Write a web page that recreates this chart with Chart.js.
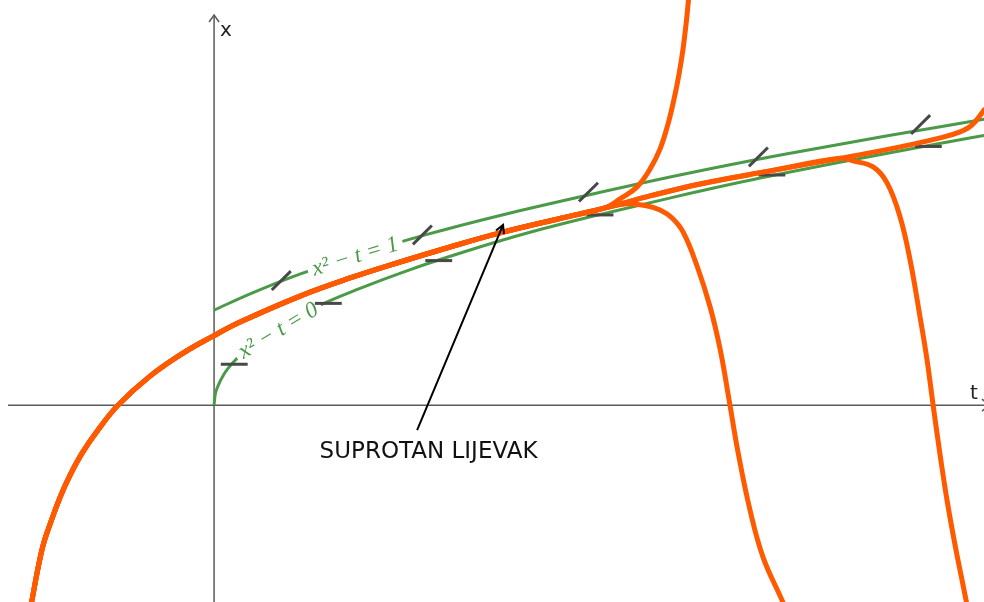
<!DOCTYPE html>
<html>
<head>
<meta charset="utf-8">
<script src="https://cdn.jsdelivr.net/npm/chart.js@4.4.1/dist/chart.umd.min.js"></script>
<style>
html, body { margin: 0; padding: 0; background: #fff; }
#wrap { width: 984px; height: 602px; }
</style>
</head>
<body>
<div id="wrap"><canvas id="chart" width="984" height="602"></canvas></div>
<script>
// --- visible window (t horizontal, x vertical) ---
const tMin = -2.23, tMax = 8.02;
const xMin = -2.07, xMax = 4.26;

// --- isoclines x^2 - t = 0 and x^2 - t = 1 ---
const iso0T = [0, 0.01, 0.04, 0.1, 0.2, 0.35, 0.55, 0.8, 1.1, 1.5, 2, 2.6, 3.3, 4, 4.8, 5.7, 6.6, 7.5, 8.1];
const iso0X = [0, 0.1, 0.2, 0.32, 0.45, 0.59, 0.74, 0.89, 1.05, 1.22, 1.41, 1.61, 1.82, 2, 2.19, 2.39, 2.57, 2.74, 2.85];
const iso1T = [0, 0.4, 0.9, 1.5, 2.2, 3, 3.9, 4.9, 5.9, 7, 8.1];
const iso1X = [1, 1.18, 1.38, 1.58, 1.79, 2, 2.21, 2.43, 2.63, 2.83, 3.02];

// --- slope marks on the isoclines (centres + slope) ---
const flatT = [0.21, 1.19, 2.34, 4.02, 5.81, 7.44];
const flatX = [0.43, 1.07, 1.52, 2.0, 2.42, 2.72];
const flatSlope = 0;
const steepT = [0.70, 2.17, 3.90, 5.67, 7.36];
const steepX = [1.31, 1.79, 2.24, 2.61, 2.95];
const steepSlope = 1;

// --- solutions (orange) ---
// common trunk coming up from bottom left
const trunkT = [-1.917, -1.792, -1.698, -1.604, -1.5, -1.375, -1.219, -1.0, -0.667, -0.323, -0.01, 0.271, 0.896, 1.417, 1.938, 2.458, 2.979, 3.604, 4.073];
const trunkX = [-2.158, -1.516, -1.221, -0.968, -0.737, -0.505, -0.274, 0, 0.305, 0.547, 0.726, 0.874, 1.147, 1.337, 1.505, 1.663, 1.811, 1.963, 2.074];
// branch shooting up near t = 4.9
const upT = [4.229, 4.406, 4.542, 4.646, 4.729, 4.792, 4.844, 4.885, 4.917, 4.938, 4.958];
const upX = [2.168, 2.295, 2.484, 2.695, 2.958, 3.221, 3.484, 3.747, 4.011, 4.221, 4.43];
// branch falling near t = 5.4
const downAT = [4.281, 4.49, 4.646, 4.771, 4.885, 5.031, 5.167, 5.271, 5.365, 5.458, 5.583, 5.719, 5.917, 5.969];
const downAX = [2.116, 2.1, 2.053, 1.968, 1.821, 1.463, 1.032, 0.589, 0.053, -0.495, -1.105, -1.6, -2.053, -2.179];
// trunk continuing right
const contT = [4.542, 5.063, 5.792, 6.521, 7.146, 7.563, 7.771, 7.896, 8.021, 8.083];
const contX = [2.2, 2.326, 2.463, 2.595, 2.716, 2.811, 2.874, 2.947, 3.105, 3.21];
// branch falling near t = 7.5
const downBT = [6.656, 6.865, 7.01, 7.146, 7.25, 7.354, 7.427, 7.49, 7.563, 7.635, 7.719, 7.802, 7.854];
const downBX = [2.568, 2.505, 2.337, 1.979, 1.526, 0.926, 0.474, 0, -0.526, -1.0, -1.474, -1.895, -2.158];

// --- annotation (data coords) ---
const noteText = 'SUPROTAN LIJEVAK';
const noteT = 2.234, noteX = -0.558;
const arrowFrom = [2.115, -0.263], arrowTo = [3.01, 1.895];
const iso1Label = { text: 'x\u00B2 \u2212 t = 1', t: 1.469, x: 1.568, angle: -17 };
const iso0Label = { text: 'x\u00B2 \u2212 t = 0', t: 0.667, x: 0.789, angle: -31 };

const GREEN = '#4b9a48';
const ORANGE = '#ff5a00';
const MARK = '#484848';
const AXIS = '#5a5a5a';

function pts(ts, xs) {
    return ts.map((t, i) => ({ x: t, y: xs[i] }));
}

function curve(label, ts, xs) {
    return {
        label: label,
        data: pts(ts, xs),
        showLine: true,
        borderColor: ORANGE,
        borderWidth: 5,
        pointRadius: 0,
        tension: 0.4,
        borderCapStyle: 'round',
        borderJoinStyle: 'round',
        order: 1
    };
}

function iso(label, ts, xs) {
    return {
        label: label,
        data: pts(ts, xs),
        showLine: true,
        borderColor: GREEN,
        borderWidth: 3,
        pointRadius: 0,
        cubicInterpolationMode: 'monotone',
        order: 3
    };
}

function marks(ts, xs, slope) {
    const half = 0.14;
    const dt = half / Math.sqrt(1 + slope * slope);
    return ts.map((t, i) => ({
        label: 'mark',
        data: [{ x: t - dt, y: xs[i] - slope * dt }, { x: t + dt, y: xs[i] + slope * dt }],
        showLine: true,
        borderColor: MARK,
        borderWidth: 3,
        pointRadius: 0,
        order: 2
    }));
}

const splitIdx = contT.indexOf(6.521) + 1;

const datasets = [
    curve('up', trunkT.concat(upT), trunkX.concat(upX)),
    curve('downA', trunkT.concat(downAT), trunkX.concat(downAX)),
    curve('downB', trunkT.concat(contT.slice(0, splitIdx), downBT), trunkX.concat(contX.slice(0, splitIdx), downBX)),
    curve('cont', trunkT.concat(contT), trunkX.concat(contX)),
    ...marks(flatT, flatX, flatSlope),
    ...marks(steepT, steepX, steepSlope),
    iso('iso1', iso1T, iso1X),
    iso('iso0', iso0T, iso0X)
];

function drawIsoLabel(chart, lab) {
    const { ctx, scales: { x: sx, y: sy } } = chart;
    const px = sx.getPixelForValue(lab.t), py = sy.getPixelForValue(lab.x);
    ctx.save();
    ctx.translate(px, py);
    ctx.rotate(lab.angle * Math.PI / 180);
    ctx.font = 'italic 23px "Liberation Serif", serif';
    const w = ctx.measureText(lab.text).width;
    ctx.fillStyle = '#fff';
    ctx.fillRect(-w / 2 - 5, -11, w + 10, 22);
    ctx.fillStyle = GREEN;
    ctx.textAlign = 'center';
    ctx.textBaseline = 'middle';
    ctx.fillText(lab.text, 0, 1);
    ctx.restore();
}

const overlay = {
    id: 'overlay',
    beforeDatasetsDraw(chart) {
        const { ctx, width, height, scales: { x: sx, y: sy } } = chart;
        const ox = sx.getPixelForValue(0), oy = sy.getPixelForValue(0);
        ctx.save();
        ctx.strokeStyle = AXIS;
        ctx.lineWidth = 1.5;
        ctx.beginPath();
        ctx.moveTo(8, oy); ctx.lineTo(width + 4, oy);
        ctx.moveTo(ox, height); ctx.lineTo(ox, 15);
        ctx.stroke();
        ctx.beginPath();
        ctx.moveTo(ox - 5, 22); ctx.lineTo(ox, 15); ctx.lineTo(ox + 5, 22);
        ctx.moveTo(width - 2, oy - 6); ctx.lineTo(width + 5, oy); ctx.lineTo(width - 2, oy + 6);
        ctx.stroke();
        ctx.fillStyle = '#222';
        ctx.font = '20px "DejaVu Sans", sans-serif';
        ctx.textAlign = 'left';
        ctx.textBaseline = 'alphabetic';
        ctx.fillText('x', ox + 6, 36);
        ctx.fillText('t', width - 14, oy - 6);
        ctx.restore();
    },
    afterDatasetDraw(chart, args) {
        const label = chart.data.datasets[args.index].label;
        if (label === 'iso1') drawIsoLabel(chart, iso1Label);
        if (label === 'iso0') drawIsoLabel(chart, iso0Label);
    },
    afterDraw(chart) {
        const { ctx, scales: { x: sx, y: sy } } = chart;
        const x1 = sx.getPixelForValue(arrowFrom[0]), y1 = sy.getPixelForValue(arrowFrom[1]);
        const x2 = sx.getPixelForValue(arrowTo[0]), y2 = sy.getPixelForValue(arrowTo[1]);
        ctx.save();
        ctx.strokeStyle = '#000';
        ctx.lineWidth = 2;
        ctx.beginPath();
        ctx.moveTo(x1, y1); ctx.lineTo(x2, y2);
        const a = Math.atan2(y2 - y1, x2 - x1);
        const len = 9, spread = 0.5;
        ctx.moveTo(x2 - len * Math.cos(a - spread), y2 - len * Math.sin(a - spread));
        ctx.lineTo(x2, y2);
        ctx.lineTo(x2 - len * Math.cos(a + spread), y2 - len * Math.sin(a + spread));
        ctx.stroke();
        ctx.fillStyle = '#111';
        ctx.font = '23px "DejaVu Sans", sans-serif';
        ctx.textAlign = 'center';
        ctx.textBaseline = 'alphabetic';
        ctx.fillText(noteText, sx.getPixelForValue(noteT), sy.getPixelForValue(noteX));
        ctx.restore();
    }
};

new Chart(document.getElementById('chart').getContext('2d'), {
    type: 'scatter',
    data: { datasets: datasets },
    options: {
        responsive: false,
        animation: false,
        events: [],
        layout: { padding: 0 },
        plugins: { legend: { display: false }, tooltip: { enabled: false } },
        scales: {
            x: { type: 'linear', min: tMin, max: tMax, display: false },
            y: { type: 'linear', min: xMin, max: xMax, display: false }
        }
    },
    plugins: [overlay]
});
</script>
</body>
</html>
